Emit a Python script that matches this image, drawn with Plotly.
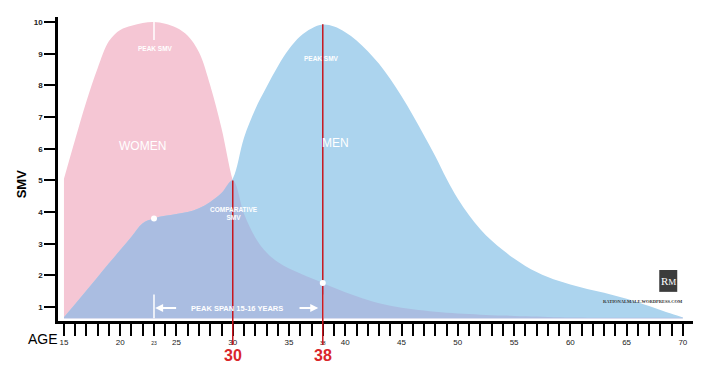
import plotly.graph_objects as go
import numpy as np

ages = list(range(15, 71))
women = [5.05, 6.3, 7.5, 8.55, 9.4, 9.75, 9.88, 9.97, 10.0, 9.95, 9.82, 9.57, 9.05, 8.0, 6.65, 5.0,
         3.95, 3.2, 2.72, 2.42, 2.22, 2.06, 1.91, 1.76, 1.61, 1.47, 1.34, 1.22, 1.12, 1.04, 0.98, 0.93,
         0.89, 0.85, 0.82, 0.8, 0.78, 0.76, 0.74, 0.73, 0.72, 0.71, 0.7, 0.69, 0.68, 0.67, 0.67,
         0.66, 0.66, 0.66, 0.66, 0.66, 0.66, 0.66, 0.66, 0.66]
men = [0.68, 1.1, 1.52, 1.95, 2.38, 2.8, 3.22, 3.65, 3.8, 3.88, 3.94, 4.0, 4.12, 4.32, 4.6, 5.05,
       6.35, 7.25, 7.95, 8.6, 9.15, 9.55, 9.8, 9.92, 9.86, 9.68, 9.42, 9.08, 8.68, 8.2, 7.66, 7.06,
       6.42, 5.76, 5.05, 4.42, 3.9, 3.46, 3.1, 2.8, 2.53, 2.3, 2.11, 1.95, 1.82, 1.71, 1.62, 1.53, 1.45,
       1.36, 1.26, 1.15, 1.03, 0.91, 0.79, 0.67]
baseline = 0.65
marker_ages = [30, 38]
marker_labels = ["30", "38"]
marker_tops = [5.0, 9.93]
peak_woman_age = 23
peak_man_age = 38
x_tick_vals = ages
x_tick_text = [("<span style='font-size:5px'>%d</span>" % a) if a in (23, 38)
               else (str(a) if a % 5 == 0 else "") for a in ages]
y_tick_vals = list(range(1, 11))

PINK = "#F5C6D4"
BLUE = "#ACD4EE"
PURPLE = "#AABDE1"
RED = "#C8161E"
overlap = list(np.minimum(women, men))

fig = go.Figure()
base = [baseline] * len(ages)
for vals, col in [(women, PINK), (men, BLUE), (overlap, PURPLE)]:
    fig.add_trace(go.Scatter(x=ages, y=base, mode="lines", line=dict(width=0), hoverinfo="skip", showlegend=False))
    fig.add_trace(go.Scatter(x=ages, y=vals, mode="lines", line=dict(width=0, shape="spline"),
                             fill="tonexty", fillcolor=col, showlegend=False))

wi = ages.index(peak_woman_age)
mi = ages.index(peak_man_age)
fig.add_trace(go.Scatter(x=[peak_woman_age, peak_woman_age], y=[women[wi], women[wi] - 0.57], mode="lines",
                         line=dict(color="white", width=1.5), showlegend=False))
for a in (peak_woman_age, peak_man_age):
    fig.add_trace(go.Scatter(x=[a, a], y=[baseline, baseline + 0.75], mode="lines",
                             line=dict(color="white", width=1.5), showlegend=False))
for a, t in zip(marker_ages, marker_tops):
    fig.add_trace(go.Scatter(x=[a, a], y=[0.3, t], mode="lines", line=dict(color=RED, width=1.5), showlegend=False))
fig.add_trace(go.Scatter(x=[peak_woman_age, peak_man_age], y=[men[wi], women[mi]], mode="markers",
                         marker=dict(color="white", size=6), showlegend=False))

shapes = []
for a in marker_ages:
    shapes.append(dict(type="line", xref="x", yref="paper", x0=a, x1=a, y0=-0.079, y1=0.0,
                       line=dict(color=RED, width=1.5)))
shapes.append(dict(type="rect", xref="x", yref="y", x0=67.9, x1=69.5, y0=1.48, y1=2.17,
                   fillcolor="#3c3c3c", line=dict(width=0)))

wt = dict(color="white", family="Liberation Sans")
ann = [
    dict(x=22.0, y=6.08, text="WOMEN", font=dict(size=12, **wt)),
    dict(x=39.1, y=6.19, text="MEN", font=dict(size=12, **wt)),
    dict(x=23.1, y=9.18, text="<b>PEAK SMV</b>", font=dict(size=6.5, **wt)),
    dict(x=37.9, y=8.86, text="<b>PEAK SMV</b>", font=dict(size=6.5, **wt)),
    dict(x=30.1, y=3.95, text="<b>COMPARATIVE<br>SMV</b>", font=dict(size=6.5, **wt)),
    dict(x=30.35, y=0.96, text="<b>PEAK SPAN 15-16 YEARS</b>", font=dict(size=7.5, **wt)),
    dict(x=68.7, y=1.82, text="R<span style='font-size:9px'>M</span>", font=dict(size=11, color="white", family="Liberation Serif")),
    dict(x=66.5, y=1.17, text="<b>RATIONALMALE.WORDPRESS.COM</b>", font=dict(size=4.5, color="#333", family="Liberation Serif")),
]
for a in ann:
    a.update(showarrow=False, xref="x", yref="y")
ann.append(dict(x=23.1, y=0.97, ax=25.1, ay=0.97, axref="x", ayref="y", xref="x", yref="y", text="",
                showarrow=True, arrowcolor="white", arrowhead=2, arrowwidth=2, arrowsize=0.8))
ann.append(dict(x=37.6, y=0.97, ax=35.8, ay=0.97, axref="x", ayref="y", xref="x", yref="y", text="",
                showarrow=True, arrowcolor="white", arrowhead=2, arrowwidth=2, arrowsize=0.8))
for a, lab in zip(marker_ages, marker_labels):
    ann.append(dict(x=a, y=-0.115, xref="x", yref="paper", text="<b>%s</b>" % lab, showarrow=False,
                    xanchor="center", yanchor="middle",
                    font=dict(size=16, color="#D9262B", family="Liberation Sans")))
ann.append(dict(x=-0.0236, y=-0.058, xref="paper", yref="paper", text="AGE", showarrow=False,
                xanchor="center", yanchor="middle",
                font=dict(size=14, color="black", family="Liberation Sans")))
ann.append(dict(x=-0.058, y=0.45, xref="paper", yref="paper", text="<b>SMV</b>", textangle=-90, showarrow=False,
                xanchor="center", yanchor="middle",
                font=dict(size=13, color="black", family="Liberation Sans")))

fig.update_layout(
    width=700, height=361, margin=dict(l=50, r=15, t=9, b=48),
    paper_bgcolor="white", plot_bgcolor="white",
    shapes=shapes, annotations=ann, showlegend=False,
    xaxis=dict(range=[14.47, 70.9], showgrid=False, zeroline=False, showline=True, linecolor="black", linewidth=2.5,
               ticks="outside", ticklen=12, tickwidth=2, tickcolor="black", tickmode="array",
               tickvals=x_tick_vals, ticktext=x_tick_text,
               tickfont=dict(size=8, color="#222", family="Liberation Sans Narrow, Liberation Sans")),
    yaxis=dict(range=[0.56, 10.16], showgrid=False, zeroline=False, showline=True, linecolor="black", linewidth=2.5,
               ticks="outside", ticklen=11, tickwidth=2, tickcolor="black", tickmode="array",
               tickvals=y_tick_vals, ticktext=[str(v) for v in y_tick_vals],
               tickfont=dict(size=8, color="#222", family="Liberation Sans", weight="bold")),
)
fig.write_html("out.html")
